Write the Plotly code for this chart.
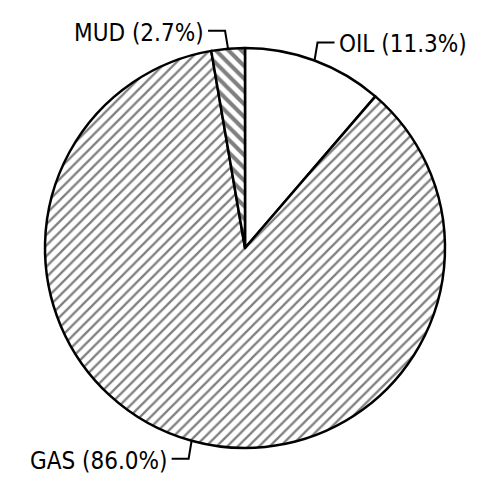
import math
import plotly.graph_objects as go

# ---- data ----
labels = ["OIL", "GAS", "MUD"]
values = [11.3, 86.0, 2.7]
hatch_shapes = ["", "/", "\\"]

# ---- layout constants (pixels; page has an 8px body margin) ----
W, H = 473, 485
CX, CY, R = 237, 240, 200

def to_paper(x, y):
    return x / W, 1 - y / H

fig = go.Figure(go.Pie(
    labels=labels,
    values=values,
    sort=False,
    direction="clockwise",
    rotation=0,
    textinfo="none",
    hoverinfo="label+percent",
    showlegend=False,
    marker=dict(
        colors=["white"] * len(values),
        line=dict(color="black", width=2.5),
        pattern=dict(
            shape=hatch_shapes,
            fgcolor="black",
            bgcolor="white",
            size=[8, 7.5, 9],
            solidity=[0.2, 0.3, 0.45],
            fillmode="overlay",
        ),
    ),
    domain=dict(
        x=[(CX - R) / W, (CX + R) / W],
        y=[1 - (CY + R) / H, 1 - (CY - R) / H],
    ),
))

total = sum(values)
cum = 0.0
shapes = []
annotations = []
for lab, v in zip(labels, values):
    mid = (cum + v / 2) / total * 2 * math.pi
    cum += v
    sx = CX + R * math.sin(mid)
    sy = CY - R * math.cos(mid)
    vdir = -1 if sy < CY else 1
    hdir = 1 if math.sin(mid) > 0 else -1
    ex = sx + 3 * hdir
    ey = sy + 18 * vdir
    fx = ex + 17 * hdir
    pts = [to_paper(sx, sy), to_paper(ex, ey), to_paper(fx, ey)]
    path = "M {} {} L {} {} L {} {}".format(*[c for p in pts for c in p])
    shapes.append(dict(type="path", xref="paper", yref="paper", path=path,
                       line=dict(color="black", width=2)))
    tx, ty = to_paper(fx + 3 * hdir, ey + 2)
    annotations.append(dict(
        x=tx, y=ty, xref="paper", yref="paper",
        text=f"{lab} ({v:.1f}%)", showarrow=False,
        xanchor="left" if hdir > 0 else "right", yanchor="middle",
        borderpad=0,
        font=dict(family="DejaVu Sans Condensed, DejaVu Sans",
                  size=24, color="black"),
    ))

fig.update_layout(
    width=W, height=H,
    margin=dict(l=0, r=0, t=0, b=0),
    paper_bgcolor="white",
    plot_bgcolor="white",
    shapes=shapes,
    annotations=annotations,
)

fig.write_html("out.html")
